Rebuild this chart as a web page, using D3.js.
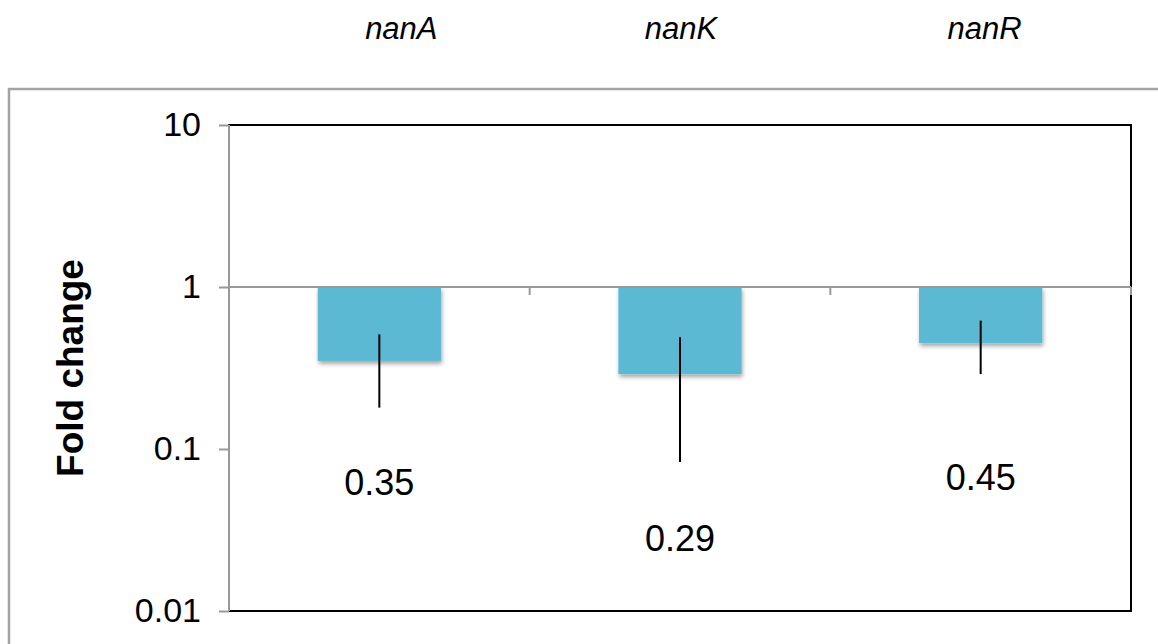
<!DOCTYPE html>
<html>
<head>
<meta charset="utf-8">
<script src="https://cdn.jsdelivr.net/npm/d3@7"></script>
<style>
  body { margin: 0; background: #fff; }
  svg { display: block; font-family: "Liberation Sans", Arial, Helvetica, sans-serif; }
</style>
</head>
<body>
<div id="chart"></div>
<script>
var genes = ["nanA", "nanK", "nanR"];
var foldChange = [0.35, 0.29, 0.45];
var errLow = [0.18, 0.083, 0.29];
var errHigh = [0.51, 0.49, 0.62];
var valueLabels = ["0.35", "0.29", "0.45"];
var labelAt = [0.052, 0.0235, 0.056];   // where the value text sits, in fold-change units
var yTicks = [10, 1, 0.1, 0.01];
var yTickLabels = ["10", "1", "0.1", "0.01"];

var W = 1158, H = 644;
var plotL = 229, plotR = 1131, plotT = 125, plotB = 611;

var svg = d3.select("#chart").append("svg")
    .attr("width", W)
    .attr("height", H);

var defs = svg.append("defs");
defs.append("filter")
    .attr("id", "shadow")
    .attr("x", "-10%").attr("y", "-10%")
    .attr("width", "125%").attr("height", "140%")
  .append("feDropShadow")
    .attr("dx", 1).attr("dy", 3)
    .attr("stdDeviation", 2)
    .attr("flood-color", "#000")
    .attr("flood-opacity", 0.35);

var x = d3.scaleBand()
    .domain(genes)
    .range([plotL, plotR])
    .padding(0);

var y = d3.scaleLog()
    .domain([0.01, 10])
    .range([plotB, plotT]);

var barW = x.bandwidth() * 0.41;

// outer frame
svg.append("rect")
    .attr("x", 9).attr("y", 89)
    .attr("width", W + 10).attr("height", H)
    .attr("fill", "none")
    .attr("stroke", "#a3a3a3")
    .attr("stroke-width", 2.5);

// gene names on top
svg.selectAll(".gene")
    .data(genes)
  .enter().append("text")
    .attr("class", "gene")
    .attr("x", function(d, i) { return x(d) + x.bandwidth() / 2 + (i === 0 ? 22 : i === 2 ? 4 : 1); })
    .attr("y", 39)
    .attr("text-anchor", "middle")
    .attr("font-style", "italic")
    .attr("font-size", 31)
    .text(function(d) { return d; });

// plot box
svg.append("rect")
    .attr("x", plotL).attr("y", plotT)
    .attr("width", plotR - plotL).attr("height", plotB - plotT)
    .attr("fill", "none")
    .attr("stroke", "#000")
    .attr("stroke-width", 2);

// bars hang from 1
svg.selectAll(".bar")
    .data(foldChange)
  .enter().append("rect")
    .attr("class", "bar")
    .attr("x", function(d, i) { return x(genes[i]) + (x.bandwidth() - barW) / 2; })
    .attr("y", y(1))
    .attr("width", barW)
    .attr("height", function(d) { return y(d) - y(1); })
    .attr("fill", "#5bb9d3")
    .attr("filter", "url(#shadow)");

// baseline at 1 with category ticks
svg.append("line")
    .attr("x1", plotL).attr("x2", plotR)
    .attr("y1", y(1)).attr("y2", y(1))
    .attr("stroke", "#999")
    .attr("stroke-width", 2);

svg.selectAll(".ctick")
    .data(genes.slice(1).map(function(g) { return x(g); }).concat([plotR]))
  .enter().append("line")
    .attr("class", "ctick")
    .attr("x1", function(d) { return d; })
    .attr("x2", function(d) { return d; })
    .attr("y1", y(1))
    .attr("y2", y(1) + 8)
    .attr("stroke", "#999")
    .attr("stroke-width", 2);

// error bars
svg.selectAll(".err")
    .data(foldChange)
  .enter().append("line")
    .attr("class", "err")
    .attr("x1", function(d, i) { return x(genes[i]) + x.bandwidth() / 2; })
    .attr("x2", function(d, i) { return x(genes[i]) + x.bandwidth() / 2; })
    .attr("y1", function(d, i) { return y(errHigh[i]); })
    .attr("y2", function(d, i) { return y(errLow[i]); })
    .attr("stroke", "#000")
    .attr("stroke-width", 2);

// value labels
svg.selectAll(".val")
    .data(valueLabels)
  .enter().append("text")
    .attr("class", "val")
    .attr("x", function(d, i) { return x(genes[i]) + x.bandwidth() / 2; })
    .attr("y", function(d, i) { return y(labelAt[i]); })
    .attr("text-anchor", "middle")
    .attr("font-size", 36)
    .text(function(d) { return d; });

// y axis
var yAxis = d3.axisLeft(y)
    .tickValues(yTicks)
    .tickFormat(function(d, i) { return yTickLabels[i]; })
    .tickSize(10)
    .tickPadding(18);

var ga = svg.append("g")
    .attr("transform", "translate(" + plotL + ",0)")
    .call(yAxis);

ga.select(".domain")
    .attr("stroke", "#999")
    .attr("stroke-width", 2)
    .attr("d", "M0," + plotT + "V" + plotB);
ga.selectAll(".tick line").attr("stroke", "#999").attr("stroke-width", 2);
ga.selectAll(".tick text")
    .attr("font-family", "Liberation Sans, Arial, sans-serif")
    .attr("font-size", 34)
    .attr("fill", "#000");

svg.append("text")
    .attr("transform", "translate(83," + (plotT + plotB) / 2 + ") rotate(-90)")
    .attr("text-anchor", "middle")
    .attr("font-weight", "bold")
    .attr("font-size", 37)
    .text("Fold change");
</script>
</body>
</html>
